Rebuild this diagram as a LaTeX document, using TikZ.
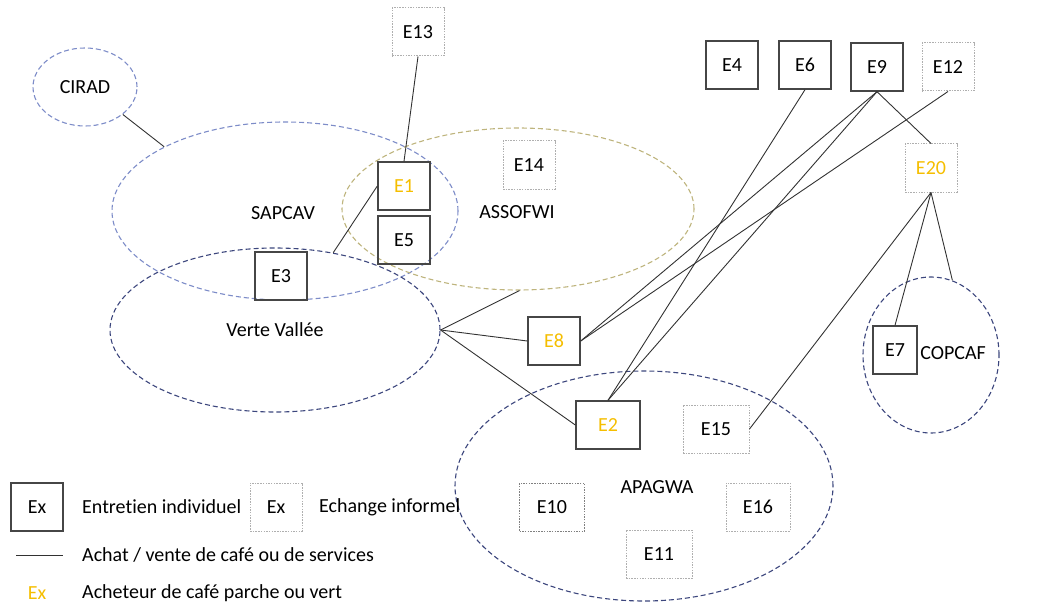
\documentclass[tikz,border=0pt]{standalone}
\usepackage{fontspec}
\setmainfont{Carlito}[Ligatures={NoCommon}]
\usetikzlibrary{shapes.geometric}
\definecolor{lblue}{RGB}{125,140,200}
\definecolor{navy}{RGB}{60,70,125}
\definecolor{olive}{RGB}{190,180,125}
\definecolor{gold}{RGB}{245,190,0}
\definecolor{boxline}{RGB}{70,70,70}
\definecolor{infline}{RGB}{175,175,175}
\definecolor{conn}{RGB}{50,50,50}
\tikzset{
  every node/.style={font=\fontsize{20}{24}\selectfont, text=black},
  grp/.style={ellipse, draw, dashed, dash pattern=on 5pt off 3pt, line width=1.1pt, inner sep=0pt},
  indiv/.style={draw=boxline, line width=1.4pt, minimum width=52pt, minimum height=48pt, inner sep=0pt},
  informal/.style={draw=infline, line width=1pt, dash pattern=on 1.5pt off 1.2pt, minimum width=52pt, minimum height=48pt, inner sep=0pt},
  buyer/.style={text=gold},
  link/.style={draw=conn, line width=0.9pt},
  legtext/.style={anchor=west, inner sep=0pt}
}
\begin{document}
\begin{tikzpicture}[x=1pt,y=-1pt]
\useasboundingbox (0,0) rectangle (1040,604);
% groups
\node[grp, draw=lblue, minimum width=104pt, minimum height=78pt] (cirad) at (85,87) {CIRAD};
\node[grp, draw=lblue, minimum width=346pt, minimum height=178pt] (sapcav) at (285,211) {};
\node at (283,213) {SAPCAV};
\node[grp, draw=olive, minimum width=352pt, minimum height=162pt] (assofwi) at (518,209) {};
\node at (517,212) {ASSOFWI};
\node[grp, draw=navy, minimum width=330pt, minimum height=164pt] (vv) at (275,330) {Verte Vallée};
\node[grp, draw=navy, minimum width=378pt, minimum height=230pt] (apagwa) at (644,486) {};
\node at (657,487) {APAGWA};
\node[grp, draw=navy, minimum width=136pt, minimum height=156pt] (copcaf) at (931,355) {};
\node at (953,353) {COPCAF};
% actors
\node[informal] (e13) at (418,32) {E13};
\node[indiv, buyer] (e1) at (404,186) {E1};
\node[indiv] (e5) at (404,240) {E5};
\node[indiv] (e3) at (281,276) {E3};
\node[informal] (e14) at (529,165) {E14};
\node[indiv, buyer] (e8) at (554,341) {E8};
\node[indiv, buyer, minimum width=64pt] (e2) at (608,425) {E2};
\node[informal, minimum width=66pt] (e15) at (716,429) {E15};
\node[informal, draw=gray, minimum width=65pt] (e10) at (552,507) {E10};
\node[informal, minimum width=64pt] (e16) at (758,507) {E16};
\node[informal, minimum width=66pt] (e11) at (659,554) {E11};
\node[indiv] (e4) at (732,65) {E4};
\node[indiv] (e6) at (805,65) {E6};
\node[indiv] (e9) at (877,67) {E9};
\node[informal] (e12) at (948,67) {E12};
\node[informal, buyer] (e20) at (931,168) {E20};
\node[indiv, minimum width=44pt] (e7) at (895,350) {E7};
% connectors
\draw[link] (cirad.-36) -- (sapcav.152);
\draw[link] (e13.south) -- (e1.north);
\draw[link] (vv.53) -- (e1.west);
\draw[link] (vv.0) -- (assofwi.-89);
\draw[link] (vv.0) -- (e8.west);
\draw[link] (vv.0) -- (e2.west);
\draw[link] (e6.south) -- (e2.north);
\draw[link] (e9.south) -- (e2.north);
\draw[link] (e9.south) -- (e8.east);
\draw[link] (e12.south) -- (e8.east);
\draw[link] (e9.south) -- (e20.north);
\draw[link] (e20.south) -- (e7.north);
\draw[link] (e20.south) -- (copcaf.74);
\draw[link] (e20.south) -- (e15.east);
% legend
\node[indiv] (lg1) at (37,507) {Ex};
\node[legtext] (lt1) at (82,507) {Entretien individuel};
\node[informal] (lg2) at (276,507) {Ex};
\node[legtext] (lt2) at (319,507) {Echange informel};
\coordinate (la) at (16,555);
\coordinate (lb) at (63,555);
\draw[link] (la) -- (lb);
\node[legtext] (lt3) at (82,555) {Achat / vente de café ou de services};
\node[buyer] (lg4) at (37,593) {Ex};
\node[legtext] (lt4) at (82,593) {Acheteur de café parche ou vert};
\end{tikzpicture}
\end{document}
